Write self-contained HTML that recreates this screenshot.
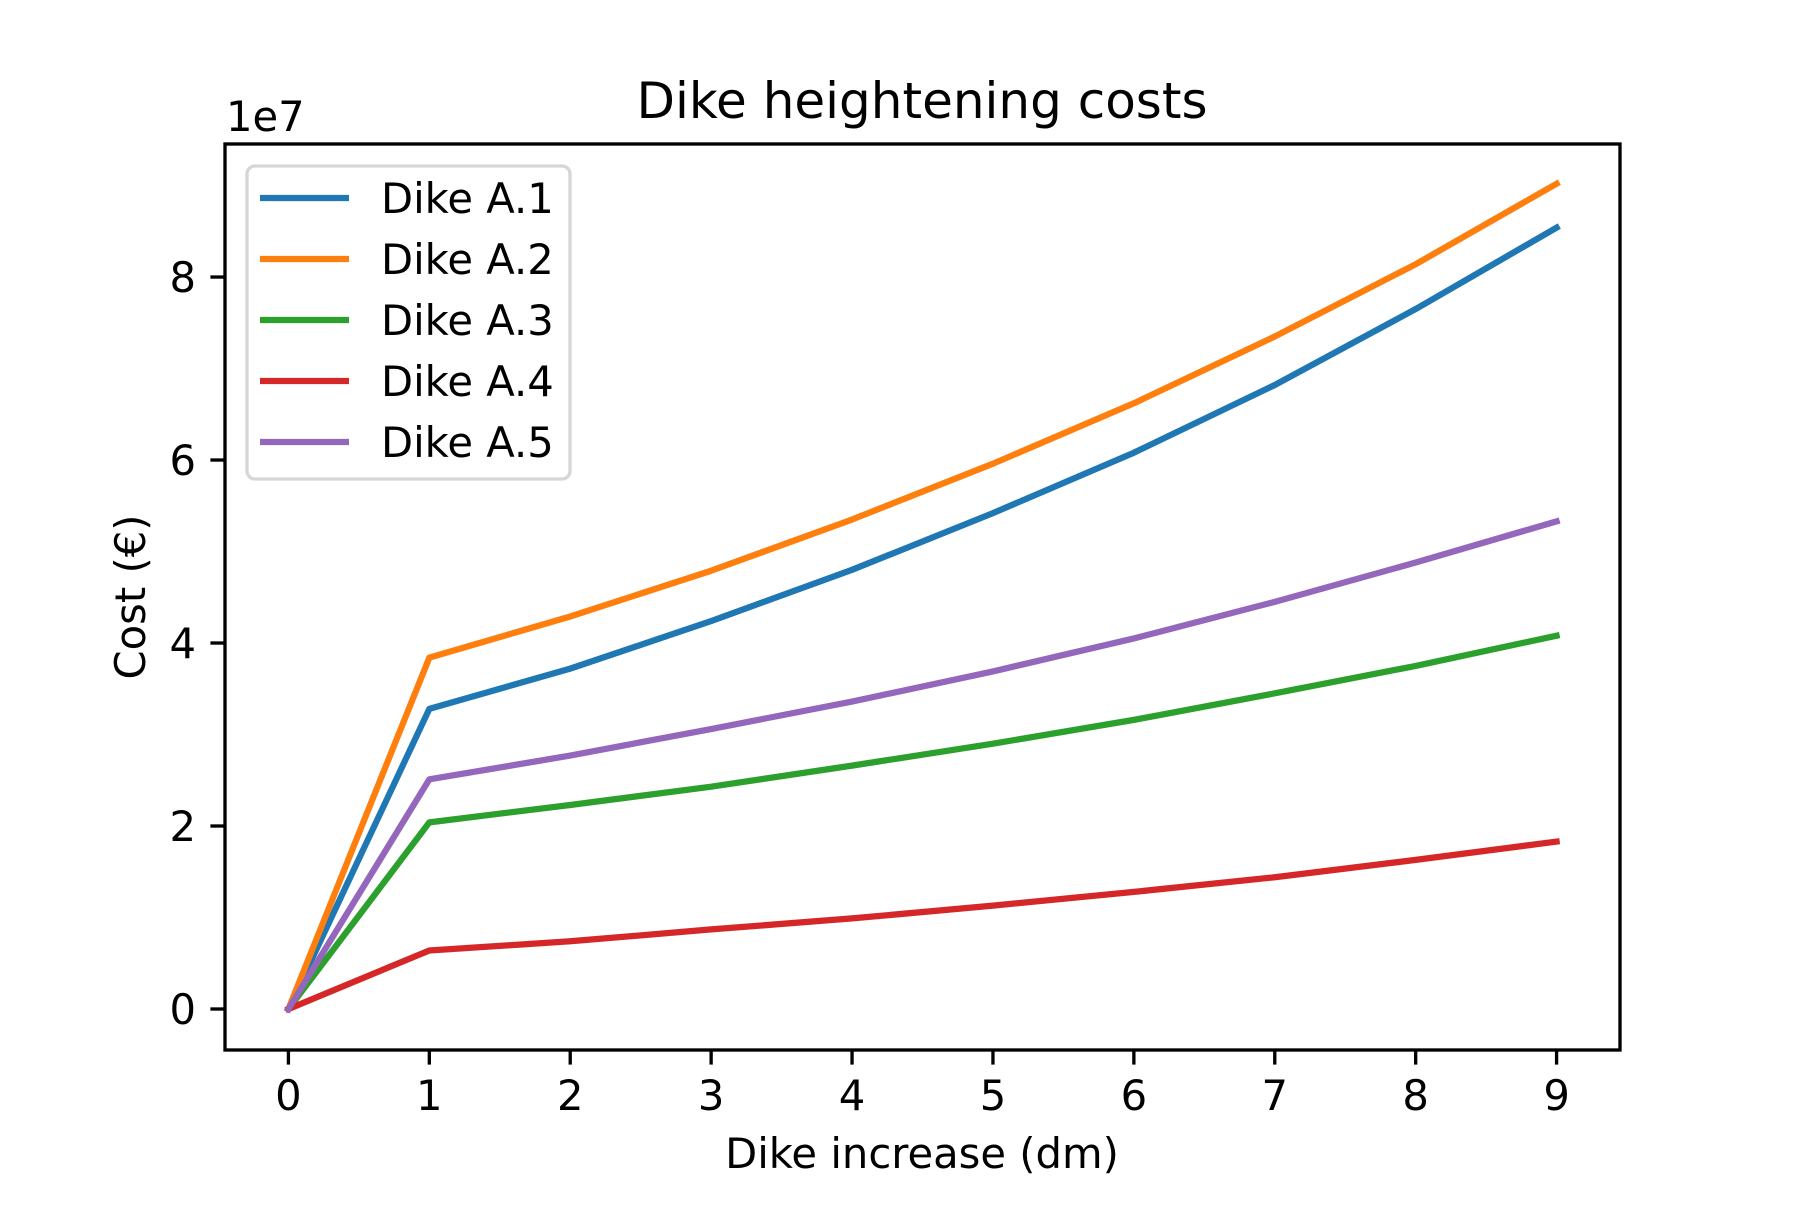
<!DOCTYPE html>
<html><head><meta charset="utf-8"><style>
body{margin:0;background:#fff}
svg text{font-family:"DejaVu Sans","Liberation Sans",sans-serif;fill:#000}
</style></head><body>
<svg id="chart" width="1800" height="1200" viewBox="0 0 1800 1200" xmlns="http://www.w3.org/2000/svg">
<rect width="1800" height="1200" fill="#fff"/>
<g id="plot"></g>
</svg>
<script>
const categories=[0,1,2,3,4,5,6,7,8,9];
const seriesNames=["Dike A.1","Dike A.2","Dike A.3","Dike A.4","Dike A.5"];
const seriesColors=["#1f77b4","#ff7f0e","#2ca02c","#d62728","#9467bd"];
const a1=[0,3.28,3.72,4.24,4.80,5.42,6.08,6.82,7.65,8.54];
const a2=[0,3.84,4.29,4.79,5.35,5.96,6.62,7.35,8.14,9.02];
const a3=[0,2.04,2.23,2.43,2.66,2.90,3.16,3.45,3.75,4.08];
const a4=[0,0.64,0.74,0.87,0.99,1.13,1.28,1.44,1.63,1.83];
const a5=[0,2.51,2.77,3.06,3.36,3.69,4.05,4.45,4.88,5.33];
const yTicks=[0,2,4,6,8];
const xTicks=[0,1,2,3,4,5,6,7,8,9];

const L=225,R=1620,T=144,B=1050;
const xMin=-0.45,xMax=9.45,yMin=-0.448,yMax=9.454;
const xs=v=>L+(v-xMin)/(xMax-xMin)*(R-L);
const ys=v=>B-(v-yMin)/(yMax-yMin)*(B-T);
const NS="http://www.w3.org/2000/svg";
const g=document.getElementById('plot');
function mk(tag,attrs,parent){const e=document.createElementNS(NS,tag);for(const k in attrs)e.setAttribute(k,attrs[k]);(parent||g).appendChild(e);return e;}

const series=[a1,a2,a3,a4,a5];
series.forEach((s,i)=>{
  const p=mk('polyline',{points:s.map((v,j)=>xs(categories[j])+','+ys(v)).join(' '),fill:'none',stroke:seriesColors[i],'stroke-width':6.25,'stroke-linecap':'square','stroke-linejoin':'round'});
  
  
});

const frame=mk('rect',{x:L,y:T,width:R-L,height:B-T,fill:'none',stroke:'#000','stroke-width':3.33});



xTicks.forEach(v=>{
  const t=mk('line',{x1:xs(v),x2:xs(v),y1:B,y2:B+14.6,stroke:'#000','stroke-width':3.33});
  
  
  const l=mk('text',{x:xs(v),y:1110,'font-size':41.7,'text-anchor':'middle'});
  l.textContent=v;
  
  
});
yTicks.forEach(v=>{
  const t=mk('line',{x1:L-14.6,x2:L,y1:ys(v),y2:ys(v),stroke:'#000','stroke-width':3.33});
  
  
  const l=mk('text',{x:196,y:ys(v)+15,'font-size':41.7,'text-anchor':'end'});
  l.textContent=v;
  
  
});

const lg=mk('g',{});


mk('rect',{x:247,y:166,width:323,height:313,rx:8,fill:'#fff','fill-opacity':0.8,stroke:'#d6d6d6','stroke-width':3.33},lg);
seriesNames.forEach((n,i)=>{
  const y=198+i*61;
  const e=mk('line',{x1:260,x2:349,y1:y,y2:y,stroke:seriesColors[i],'stroke-width':6.25},lg);
  
  
  const t=mk('text',{x:381,y:y+15,'font-size':41.7},lg);
  t.textContent=n;
  
  
});
</script>
<svg style="position:absolute;left:0;top:0" width="1800" height="1200" xmlns="http://www.w3.org/2000/svg">
<text x="922" y="118" font-size="50" text-anchor="middle">Dike heightening costs</text>
<text x="226" y="131" font-size="41.7">1e7</text>
<text x="922" y="1168" font-size="41.7" text-anchor="middle">Dike increase (dm)</text>
<text x="0" y="0" font-size="41.7" text-anchor="middle" transform="translate(145,597) rotate(-90)">Cost (€)</text>
</svg>
</body></html>
